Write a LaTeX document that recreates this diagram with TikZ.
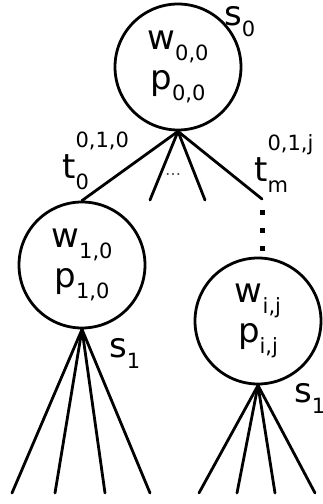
\documentclass[tikz,border=0pt]{standalone}
\usepackage{fontspec}
\setmainfont{DejaVu Sans}
% small indices below / above a letter
\newcommand\lo[1]{\raisebox{-0.33em}{\fontsize{21}{21}\selectfont #1}}
\newcommand\hi[1]{\raisebox{0.9em}{\fontsize{21}{21}\selectfont #1}}
\newcommand\both[2]{\rlap{\lo{#1}}\hi{#2}}

\begin{document}
\begin{tikzpicture}[x=1pt, y=-1pt, line cap=round, line join=round,
		state/.style={circle, draw, line width=2.8pt, minimum size=126pt, inner sep=0pt,
			align=center, font=\fontsize{34}{40}\selectfont},
		edge/.style={line width=2.8pt},
		lbl/.style={anchor=base west, inner sep=0pt, font=\fontsize{34}{40}\selectfont}]
	\clip (0,0) rectangle (323,504);
	
	\node[state] (root) at (178,67) {w\lo{0,0}\\p\lo{0,0}};
	\node[state] (c1) at (82,265) {w\lo{1,0}\\p\lo{1,0}};
	\node[state] (c2) at (258,321) {w\lo{i,j}\\p\lo{i,j}};
	
	\coordinate (m1) at (150,200);
	\coordinate (m2) at (205,200);
	\coordinate (tm) at (262,199);
	
	% branches of the root
	\draw[edge] (root.south) -- (c1.north);
	\draw[edge] (root.south) -- (m1);
	\draw[edge] (root.south) -- (m2);
	\draw[edge] (root.south) -- (tm);
	\node[font=\fontsize{16}{16}\selectfont, text=black!70] (dots) at (173,175) {\ldots};
	
	% vertical dots down to the lower node
	\foreach \y in {212,230,248}
		\fill (259.5,\y-2.5) rectangle ++(5,5);
	
	% leaves
	\foreach \x in {12,55,105,150}
		\draw[edge] (c1.south) -- (\x,493);
	\foreach \x in {199,237,275,315}
		\draw[edge] (c2.south) -- (\x,493);
	
	\node[lbl] (s0) at (224,25) {s\lo{0}};
	\node[lbl] (s1) at (109,357) {s\lo{1}};
	\node[lbl] (s1b) at (294,402) {s\lo{1}};
	\node[lbl] (t0) at (62,178) {t\both{0}{0,1,0}};
	\node[lbl] (t1) at (254,181) {t\both{m}{0,1,j}};
\end{tikzpicture}
\end{document}
